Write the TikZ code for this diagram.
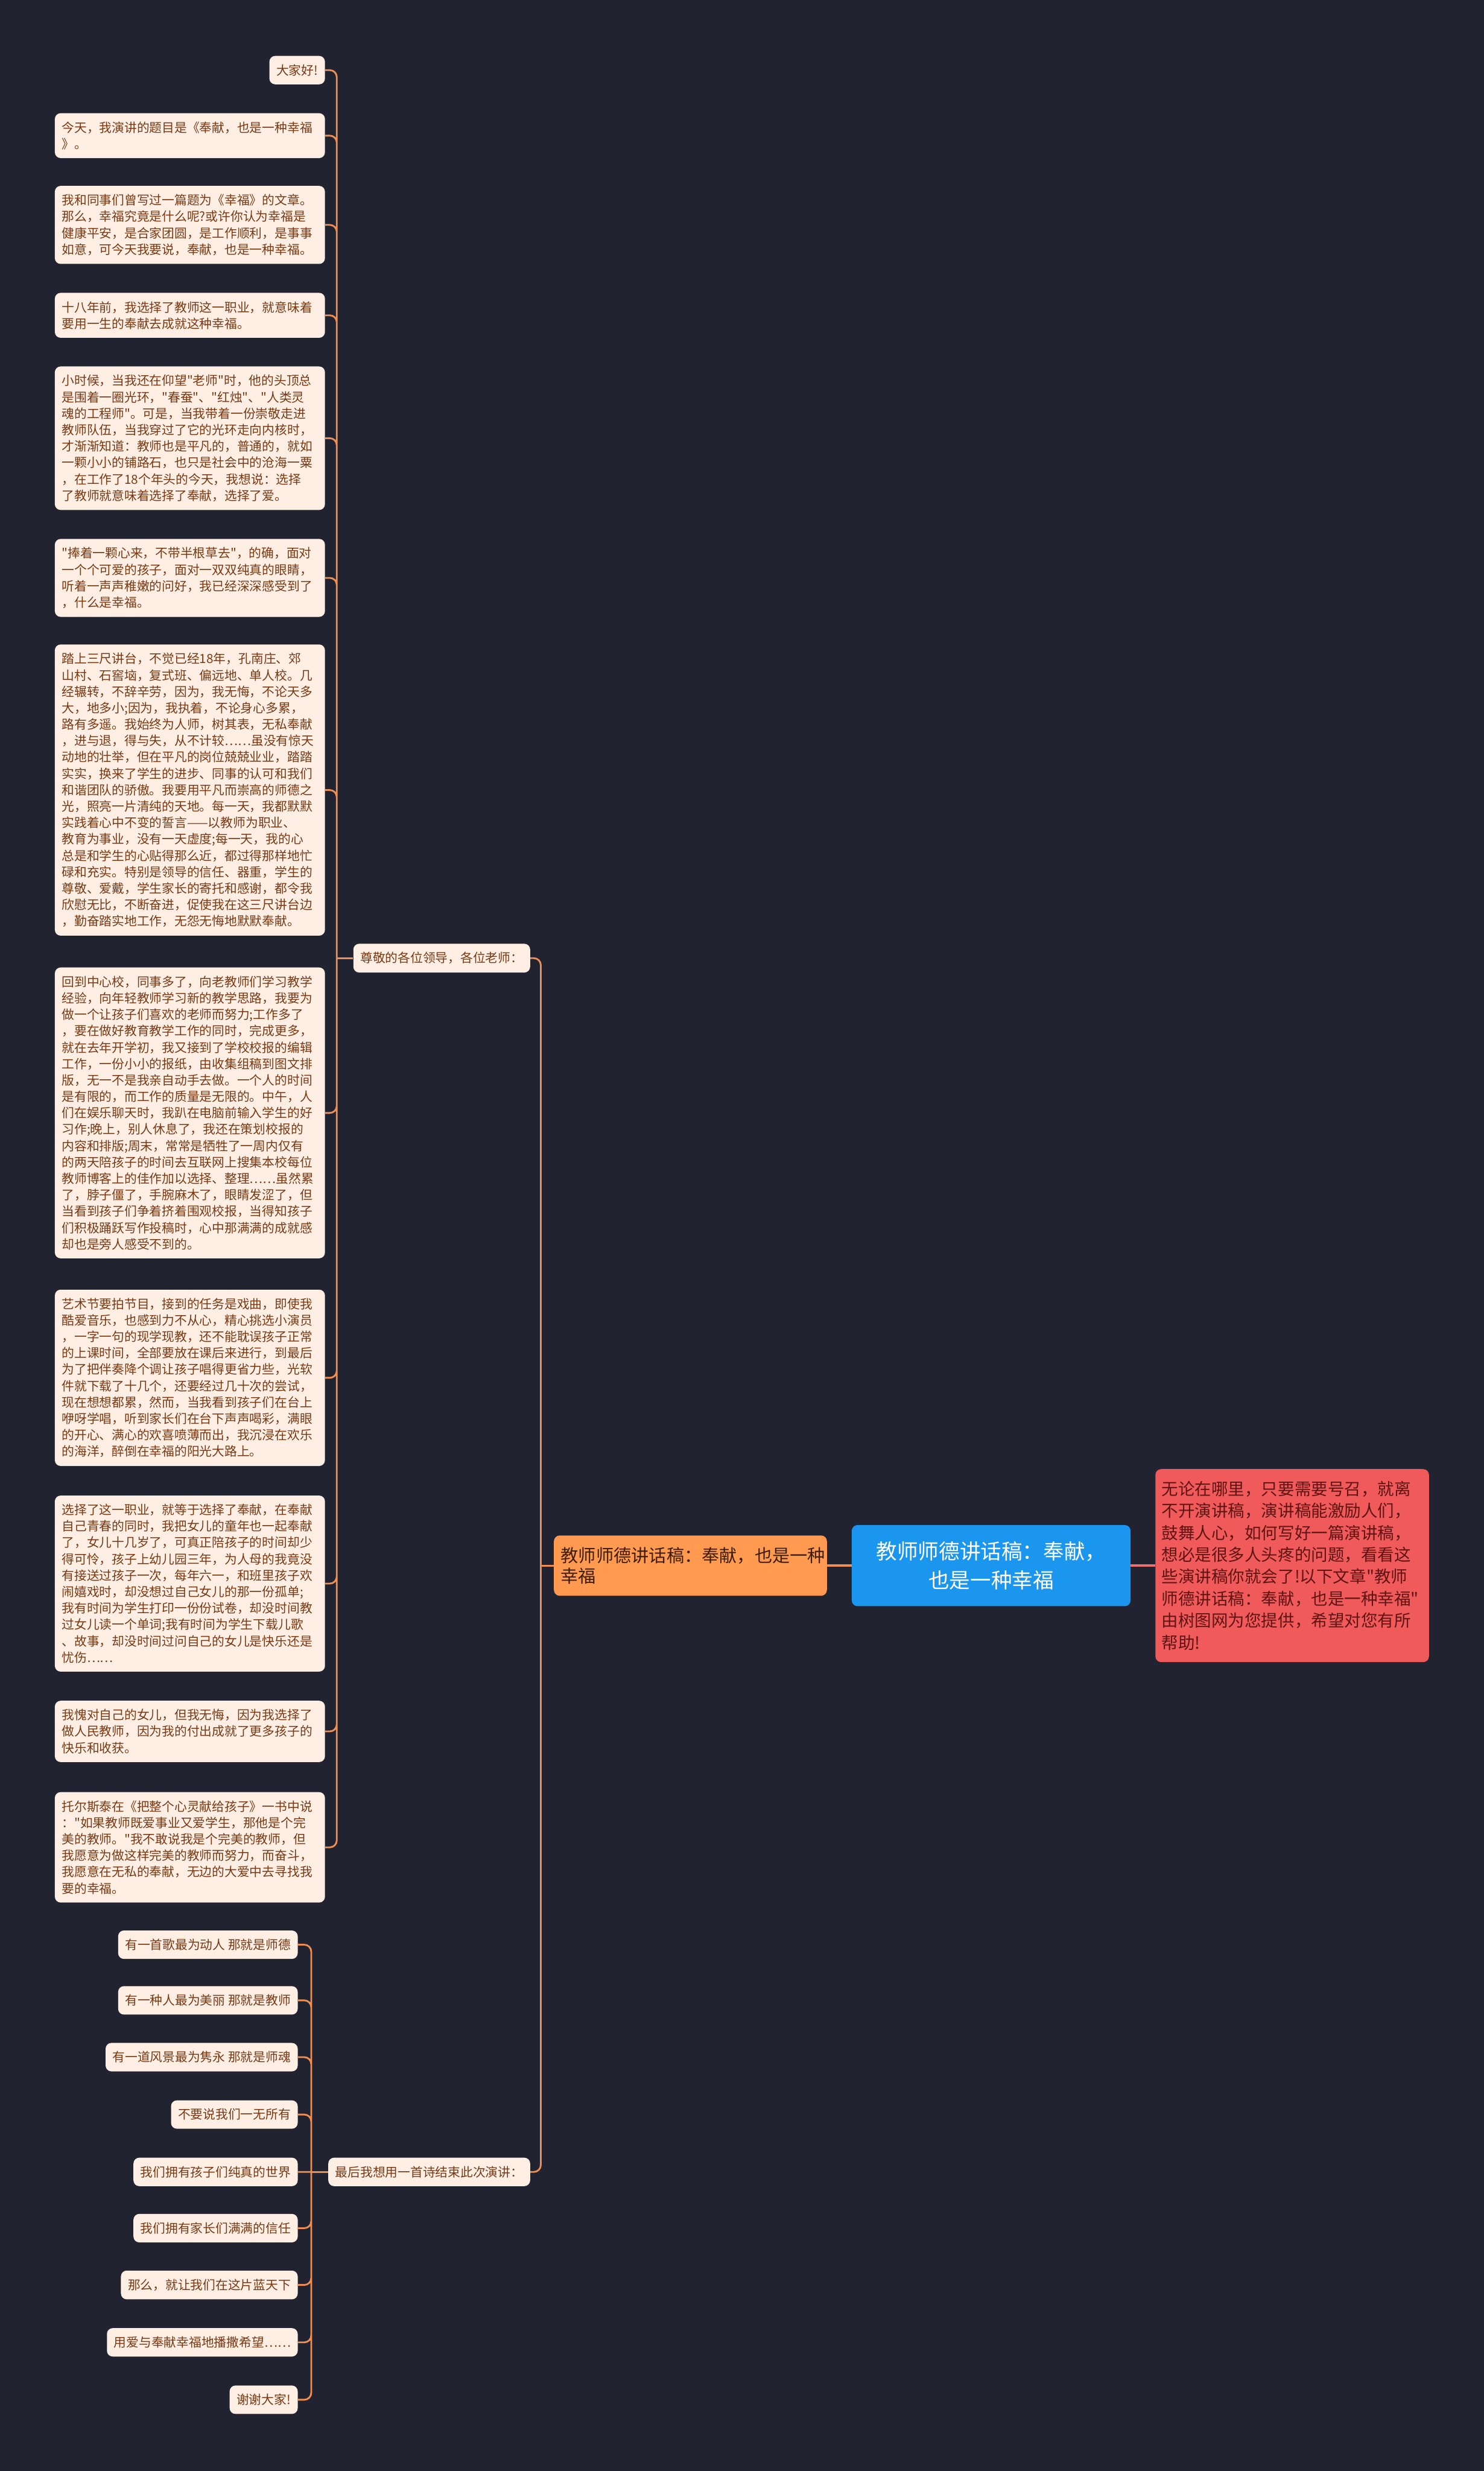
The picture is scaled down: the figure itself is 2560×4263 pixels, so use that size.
\documentclass[tikz,border=0pt]{standalone}
\usepackage{fontspec}
\setmainfont{Noto Sans CJK SC}[Ligatures=TeXOff]
\definecolor{bgc}{RGB}{33,36,48}
\definecolor{leaffill}{RGB}{254,238,227}
\definecolor{leaftext}{RGB}{120,58,20}
\definecolor{linkc}{RGB}{239,142,82}
\definecolor{mainfill}{RGB}{255,154,80}
\definecolor{maintext}{RGB}{60,30,8}
\definecolor{rootfill}{RGB}{27,150,238}
\definecolor{notefill}{RGB}{241,90,90}
\definecolor{notetext}{RGB}{95,20,20}
\definecolor{notelinkc}{RGB}{236,112,112}
\tikzset{
  leaf/.style={fill=leaffill,text=leaftext,rounded corners=2mm,
    inner xsep=2.4mm,inner ysep=2.9mm,anchor=east,
    font=\fontsize{12.3}{16.1}\selectfont},
  longleaf/.style={leaf,text width=88.4mm,align=left},
  link/.style={draw=linkc,line width=0.6mm,rounded corners=2.4mm},
}

\begin{document}
\begin{tikzpicture}[x=0.2mm,y=-0.2mm]
  \useasboundingbox (0,0) rectangle (2560,4263);
  \fill[bgc] (0,0) rectangle (2560,4263);

  % centre
  \node[fill=rootfill,text=white,rounded corners=2mm,minimum width=96.2mm,
    minimum height=28mm,align=center,font=\fontsize{20.5}{28.5}\selectfont]
    (root) at (1710,2701) {教师师德讲话稿：奉献，\\也是一种幸福};
  \node[fill=mainfill,text=maintext,rounded corners=2mm,anchor=east,
    text width=89.4mm,inner xsep=2.4mm,minimum height=20.8mm,align=left,
    font=\fontsize{17.3}{19.9}\selectfont]
    (main) at (1427,2701) {教师师德讲话稿：奉献，也是一种\\幸福};
  \node[fill=notefill,text=notetext,rounded corners=2mm,anchor=west,
    text width=90mm,inner xsep=2.2mm,minimum height=66.6mm,align=left,
    font=\fontsize{16.3}{21.6}\selectfont]
    (note) at (1993,2701) {无论在哪里，只要需要号召，就离\\
    不开演讲稿，演讲稿能激励人们，\\
    鼓舞人心，如何写好一篇演讲稿，\\
    想必是很多人头疼的问题，看看这\\
    些演讲稿你就会了!以下文章"教师\\
    师德讲话稿：奉献，也是一种幸福"\\
    由树图网为您提供，希望对您有所\\
    帮助!};

  % second level
  \node[leaf] (greet) at (915,1653) {尊敬的各位领导，各位老师：};
  \node[leaf] (poem) at (915,3747) {最后我想用一首诗结束此次演讲：};
  \coordinate (j0) at (933,2701);
  \coordinate (j1) at (581,1653);
  \coordinate (j2) at (537,3747);

  % speech
  \node[leaf] (g1) at (561,121) {大家好!};
  \node[longleaf] (g2) at (561,234) {今天，我演讲的题目是《奉献，也是一种幸福\\》。};
  \node[longleaf] (g3) at (561,388) {我和同事们曾写过一篇题为《幸福》的文章。\\
    那么，幸福究竟是什么呢?或许你认为幸福是\\
    健康平安，是合家团圆，是工作顺利，是事事\\
    如意，可今天我要说，奉献，也是一种幸福。};
  \node[longleaf] (g4) at (561,544) {十八年前，我选择了教师这一职业，就意味着\\
    要用一生的奉献去成就这种幸福。};
  \node[longleaf] (g5) at (561,756) {小时候，当我还在仰望"老师"时，他的头顶总\\
    是围着一圈光环，"春蚕"、"红烛"、"人类灵\\
    魂的工程师"。可是，当我带着一份崇敬走进\\
    教师队伍，当我穿过了它的光环走向内核时，\\
    才渐渐知道：教师也是平凡的，普通的，就如\\
    一颗小小的铺路石，也只是社会中的沧海一粟\\
    ，在工作了18个年头的今天，我想说：选择\\
    了教师就意味着选择了奉献，选择了爱。};
  \node[longleaf] (g6) at (561,997) {"捧着一颗心来，不带半根草去"，的确，面对\\
    一个个可爱的孩子，面对一双双纯真的眼睛，\\
    听着一声声稚嫩的问好，我已经深深感受到了\\
    ，什么是幸福。};
  \node[longleaf] (g7) at (561,1363) {踏上三尺讲台，不觉已经18年，孔南庄、郊\\
    山村、石窖垴，复式班、偏远地、单人校。几\\
    经辗转，不辞辛劳，因为，我无悔，不论天多\\
    大，地多小;因为，我执着，不论身心多累，\\
    路有多遥。我始终为人师，树其表，无私奉献\\
    ，进与退，得与失，从不计较……虽没有惊天\\
    动地的壮举，但在平凡的岗位兢兢业业，踏踏\\
    实实，换来了学生的进步、同事的认可和我们\\
    和谐团队的骄傲。我要用平凡而崇高的师德之\\
    光，照亮一片清纯的天地。每一天，我都默默\\
    实践着心中不变的誓言——以教师为职业、\\
    教育为事业，没有一天虚度;每一天，我的心\\
    总是和学生的心贴得那么近，都过得那样地忙\\
    碌和充实。特别是领导的信任、器重，学生的\\
    尊敬、爱戴，学生家长的寄托和感谢，都令我\\
    欣慰无比，不断奋进，促使我在这三尺讲台边\\
    ，勤奋踏实地工作，无怨无悔地默默奉献。};
  \node[longleaf] (g8) at (561,1920) {回到中心校，同事多了，向老教师们学习教学\\
    经验，向年轻教师学习新的教学思路，我要为\\
    做一个让孩子们喜欢的老师而努力;工作多了\\
    ，要在做好教育教学工作的同时，完成更多，\\
    就在去年开学初，我又接到了学校校报的编辑\\
    工作，一份小小的报纸，由收集组稿到图文排\\
    版，无一不是我亲自动手去做。一个人的时间\\
    是有限的，而工作的质量是无限的。中午，人\\
    们在娱乐聊天时，我趴在电脑前输入学生的好\\
    习作;晚上，别人休息了，我还在策划校报的\\
    内容和排版;周末，常常是牺牲了一周内仅有\\
    的两天陪孩子的时间去互联网上搜集本校每位\\
    教师博客上的佳作加以选择、整理……虽然累\\
    了，脖子僵了，手腕麻木了，眼睛发涩了，但\\
    当看到孩子们争着挤着围观校报，当得知孩子\\
    们积极踊跃写作投稿时，心中那满满的成就感\\
    却也是旁人感受不到的。};
  \node[longleaf] (g9) at (561,2377) {艺术节要拍节目，接到的任务是戏曲，即使我\\
    酷爱音乐，也感到力不从心，精心挑选小演员\\
    ，一字一句的现学现教，还不能耽误孩子正常\\
    的上课时间，全部要放在课后来进行，到最后\\
    为了把伴奏降个调让孩子唱得更省力些，光软\\
    件就下载了十几个，还要经过几十次的尝试，\\
    现在想想都累，然而，当我看到孩子们在台上\\
    咿呀学唱，听到家长们在台下声声喝彩，满眼\\
    的开心、满心的欢喜喷薄而出，我沉浸在欢乐\\
    的海洋，醉倒在幸福的阳光大路上。};
  \node[longleaf] (g10) at (561,2732) {选择了这一职业，就等于选择了奉献，在奉献\\
    自己青春的同时，我把女儿的童年也一起奉献\\
    了，女儿十几岁了，可真正陪孩子的时间却少\\
    得可怜，孩子上幼儿园三年，为人母的我竟没\\
    有接送过孩子一次，每年六一，和班里孩子欢\\
    闹嬉戏时，却没想过自己女儿的那一份孤单;\\
    我有时间为学生打印一份份试卷，却没时间教\\
    过女儿读一个单词;我有时间为学生下载儿歌\\
    、故事，却没时间过问自己的女儿是快乐还是\\
    忧伤……};
  \node[longleaf] (g11) at (561,2987) {我愧对自己的女儿，但我无悔，因为我选择了\\
    做人民教师，因为我的付出成就了更多孩子的\\
    快乐和收获。};
  \node[longleaf] (g12) at (561,3187) {托尔斯泰在《把整个心灵献给孩子》一书中说\\
    ："如果教师既爱事业又爱学生，那他是个完\\
    美的教师。"我不敢说我是个完美的教师，但\\
    我愿意为做这样完美的教师而努力，而奋斗，\\
    我愿意在无私的奉献，无边的大爱中去寻找我\\
    要的幸福。};

  % poem
  \node[leaf] (p1) at (514,3355) {有一首歌最为动人 那就是师德};
  \node[leaf] (p2) at (514,3451) {有一种人最为美丽 那就是教师};
  \node[leaf] (p3) at (514,3549) {有一道风景最为隽永 那就是师魂};
  \node[leaf] (p4) at (514,3648) {不要说我们一无所有};
  \node[leaf] (p5) at (514,3747) {我们拥有孩子们纯真的世界};
  \node[leaf] (p6) at (514,3844) {我们拥有家长们满满的信任};
  \node[leaf] (p7) at (514,3942) {那么，就让我们在这片蓝天下};
  \node[leaf] (p8) at (514,4041) {用爱与奉献幸福地播撒希望……};
  \node[leaf] (p9) at (514,4140) {谢谢大家!};

  % links
  \draw[link,line width=0.8mm] (root.west) -- (main.east);
  \draw[draw=notelinkc,line width=0.8mm] (root.east) -- (note.west);
  \draw[link] (main.west) -- (j0);
  \draw[link] (j0) |- (greet.east) (j0) |- (poem.east);
  \draw[link] (greet.west) -- (j1);
  \draw[link] (j1) |- (g1.east) (j1) |- (g2.east) (j1) |- (g3.east)
    (j1) |- (g4.east) (j1) |- (g5.east) (j1) |- (g6.east)
    (j1) |- (g7.east) (j1) |- (g8.east) (j1) |- (g9.east)
    (j1) |- (g10.east) (j1) |- (g11.east) (j1) |- (g12.east);
  \draw[link] (poem.west) -- (j2);
  \draw[link] (j2) |- (p1.east) (j2) |- (p2.east) (j2) |- (p3.east)
    (j2) |- (p4.east) (j2) -- (p5.east) (j2) |- (p6.east)
    (j2) |- (p7.east) (j2) |- (p8.east) (j2) |- (p9.east);
\end{tikzpicture}
\end{document}
